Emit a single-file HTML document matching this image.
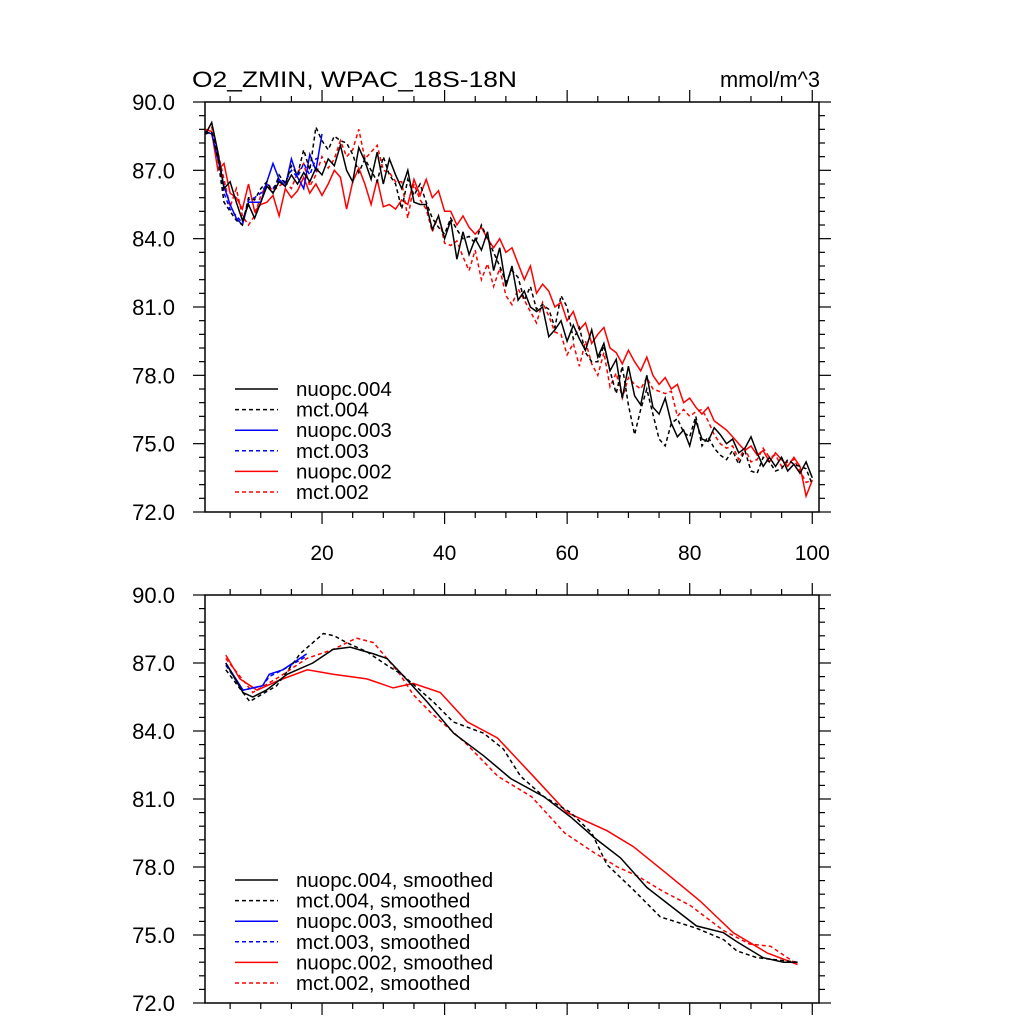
<!DOCTYPE html>
<html><head><meta charset="utf-8"><style>
html,body{margin:0;padding:0;background:#fff;}
svg text{font-family:"Liberation Sans",sans-serif;}
</style></head><body>
<svg id="chart" width="1024" height="1024" xmlns="http://www.w3.org/2000/svg">
<text x="192" y="87" font-size="22" textLength="325" lengthAdjust="spacingAndGlyphs">O2_ZMIN, WPAC_18S-18N</text>
<text x="720" y="87" font-size="22" textLength="100" lengthAdjust="spacingAndGlyphs">mmol/m^3</text>
<g id="top"></g>
<g id="bot"></g>
</svg>
<script>
const nuopc004 = [88.6,89.1,87.8,86.2,86.5,85.6,84.8,85.5,84.9,85.6,86.3,86.0,86.5,86.3,86.8,86.4,86.9,86.5,87.1,86.8,87.5,87.2,88.1,87.0,86.5,88.0,87.4,86.6,87.8,86.4,87.5,86.8,86.2,87.0,85.6,85.5,85.5,84.4,85.0,84.0,84.8,83.1,84.3,83.3,84.0,83.5,84.3,82.6,83.6,81.9,82.8,81.3,81.7,81.0,80.8,81.0,79.7,80.0,80.4,79.5,80.2,79.6,79.1,80.0,78.8,79.4,78.2,78.7,77.0,78.4,77.1,76.7,78.0,76.6,76.3,77.0,75.9,75.3,75.6,74.9,76.0,75.2,75.1,75.7,75.4,75.0,75.2,74.6,74.8,75.3,74.6,74.0,74.4,74.0,74.4,73.8,74.1,73.7,74.2,73.5];
const mct004 = [88.6,88.7,87.5,85.6,85.2,84.8,84.6,85.8,85.7,86.2,86.5,86.0,86.8,86.4,87.2,86.8,87.9,87.0,88.9,88.3,87.9,88.5,88.3,88.2,87.7,86.9,87.5,87.0,86.5,87.6,86.8,86.4,85.3,86.6,85.9,86.4,85.6,84.9,84.5,84.2,84.9,84.4,84.0,84.1,83.8,84.6,84.0,83.4,82.8,82.1,82.6,82.3,81.3,81.9,80.9,81.1,80.9,80.1,81.5,81.0,79.6,80.1,79.0,78.6,78.6,79.3,78.2,77.2,78.4,76.7,75.4,76.5,77.4,76.3,75.2,74.9,75.9,76.1,75.5,75.3,76.2,74.9,75.3,74.8,74.5,74.3,74.7,74.1,74.7,73.8,73.7,74.4,74.2,73.8,73.9,74.3,74.1,74.0,73.9,73.2];
const nuopc003 = [88.7,88.6,87.5,86.3,85.5,84.9,84.6,85.6,85.6,85.6,86.5,87.3,86.6,86.3,87.5,86.7,86.2,87.7,87.0,88.6];
const mct003 = [88.6,88.7,87.6,86.0,85.3,85.0,84.7,85.7,85.8,86.0,86.4,86.2,86.6,86.5,87.0,86.7,87.3,86.8,87.5,87.6];
const nuopc002 = [88.8,88.7,87.0,87.3,86.0,85.8,85.3,86.4,85.2,85.5,85.6,85.9,85.0,86.2,85.8,86.1,86.7,86.0,86.4,85.9,86.4,87.0,86.7,85.3,86.5,87.1,86.4,85.5,86.6,85.4,85.5,85.3,85.7,85.5,86.6,85.9,86.6,85.8,86.1,85.2,85.2,84.6,85.0,84.5,84.2,84.5,84.0,83.6,84.0,83.4,83.6,82.9,82.2,82.8,81.6,82.0,81.7,81.0,81.2,80.4,80.8,80.0,80.3,79.4,79.8,80.1,79.2,79.0,78.5,79.1,78.6,78.2,78.8,78.0,77.6,77.9,77.4,77.6,76.8,77.0,76.6,76.3,76.6,76.0,75.8,75.6,75.3,75.0,74.7,74.9,74.5,74.7,74.2,74.6,74.3,74.0,74.4,74.0,72.7,73.4];
const mct002 = [88.7,88.9,87.8,86.6,85.4,86.2,85.0,84.6,85.0,85.9,86.4,86.1,86.3,86.5,86.2,86.9,87.3,86.3,86.8,87.6,87.1,87.5,88.3,87.6,87.9,88.8,87.5,87.8,88.1,87.0,86.9,86.5,86.5,84.9,86.4,85.7,85.3,84.3,85.0,83.8,83.7,83.9,83.2,82.6,83.5,82.2,82.9,81.9,82.7,81.5,81.1,81.8,81.3,80.8,80.3,81.2,80.6,79.9,79.8,78.9,79.4,78.4,79.5,78.5,78.0,79.0,77.5,78.1,77.0,77.9,77.6,77.4,77.9,77.4,77.3,77.2,77.3,76.2,76.5,76.2,76.4,76.5,76.0,75.4,75.0,74.8,74.9,74.3,74.8,74.2,74.3,74.8,74.4,74.5,74.0,74.2,74.3,73.8,73.3,73.4];

const smXn004 = [4.3,7.1,8.7,10.9,14.3,18.5,21.8,24.6,28.4,30.6,32.7,37.1,41.5,46.4,50.8,56.2,60.6,64.4,68.7,73,76.8,81.1,85.5,87.7,92,95.3,97.6];
const smNuopc004 = [87.0,85.7,85.5,85.8,86.5,87.0,87.6,87.7,87.4,87.2,86.6,85.3,83.9,82.9,81.9,81.1,80.2,79.3,78.4,77.1,76.3,75.4,75.1,74.7,74.0,73.8,73.8];
const smXm004 = [4.3,8.2,12.6,16.4,20.2,22,24,27.3,30.6,33,38.1,41.4,46.4,49.6,52.4,56.2,60.6,64,66.5,70.8,75.2,81.1,85.5,87.7,91,97.6];
const smMct004 = [86.7,85.3,86.0,87.4,88.3,88.2,87.9,87.5,86.9,86.5,85.3,84.4,83.9,83.2,82.0,81.1,80.4,79.5,78.1,77.0,75.8,75.3,74.8,74.3,74.0,73.8];
const smXn002 = [4.3,6.6,9.4,13.1,17.6,21.8,27.3,31.6,34.9,39.3,43.7,48.6,54.5,60,66.5,70.8,76.3,81.7,87.1,92.7,97.6];
const smNuopc002 = [87.35,86.3,85.8,86.25,86.7,86.5,86.3,85.9,86.1,85.7,84.4,83.7,82.0,80.4,79.6,78.9,77.7,76.5,75.1,74.2,73.7];
const smXm002 = [4.3,8.7,13.1,17.5,21.8,25.6,28.4,30.6,32.7,34.9,37.8,43.3,48.7,54.2,59.6,64,68.2,71.5,75.8,80.1,85.5,89.8,93.2,97.6];
const smMct002 = [87.2,85.7,86.4,87.2,87.6,88.1,87.9,87.2,86.5,85.6,84.8,83.5,82.0,81.1,79.5,78.7,78.0,77.6,76.9,76.3,75.2,74.6,74.5,73.7];
const smX3 = [4.3,7.1,10.3,11.4,13.6,17.5];
const smNuopc003 = [87.0,85.8,86.0,86.5,86.7,87.4];
const smMct003 = [86.9,85.8,86.0,86.4,86.7,87.3];

const yTicks = ["72.0","75.0","78.0","81.0","84.0","87.0","90.0"];
const xTicks = ["20","40","60","80","100"];

const NS="http://www.w3.org/2000/svg";
const L=205,R=819;
const xs=v=>L+(v-0.9)*(R-L)/(101.1-0.9);
function mk(tag,attrs,parent){const e=document.createElementNS(NS,tag);for(const k in attrs)e.setAttribute(k,attrs[k]);parent.appendChild(e);return e;}

function panel(g,top,bot,showXLabels){
  const ys=v=>bot-(v-72)*(bot-top)/18;
  const frame=mk('rect',{x:L,y:top,width:R-L,height:bot-top,fill:'none',stroke:'#000','stroke-width':1.5},g);
  
  
  for(let v=72;v<=90.001;v+=0.6){
    const major=Math.abs((v-72)/3-Math.round((v-72)/3))<0.01;
    const len=major?12:6;
    const y=ys(v);
    const t1=mk('line',{x1:L,x2:L-len,y1:y,y2:y,stroke:'#000','stroke-width':1.2},g);
    
    
    const t2=mk('line',{x1:R,x2:R+len,y1:y,y2:y,stroke:'#000','stroke-width':1.2},g);
    
    
  }
  yTicks.forEach(s=>{
    const t=mk('text',{x:175,y:ys(parseFloat(s))+8,'font-size':22,'text-anchor':'end'},g);
    t.textContent=s;
    
    
  });
  for(let v=5;v<=100;v+=5){
    const major=v%20===0;const len=major?12:6;const x=xs(v);
    const a=mk('line',{x1:x,x2:x,y1:bot,y2:bot+len,stroke:'#000','stroke-width':1.2},g);
    
    
    const b=mk('line',{x1:x,x2:x,y1:top,y2:top-len,stroke:'#000','stroke-width':1.2},g);
    
    
  }
  if(showXLabels) xTicks.forEach(s=>{
    const t=mk('text',{x:xs(+s),y:bot+48,'font-size':21,'text-anchor':'middle'},g);
    t.textContent=s;
    
    
  });
  return ys;
}
function series(g,ys,xv,yv,color,dash,name){
  const pts=yv.map((v,i)=>xs(xv[i]).toFixed(1)+','+ys(v).toFixed(1)).join(' ');
  const p=mk('polyline',{points:pts,fill:'none',stroke:color,'stroke-width':1.5,'stroke-dasharray':dash?'4,3':'none'},g);
  
  
}
function legend(g,y0,items){
  items.forEach((it,i)=>{
    const y=y0+i*20.6;
    const l=mk('line',{x1:235,x2:278,y1:y,y2:y,stroke:it[1],'stroke-width':1.5,'stroke-dasharray':it[2]?'4,3':'none'},g);
    
    
    const t=mk('text',{x:296,y:y+7,'font-size':20.5},g);
    t.textContent=it[0];
    
    
  });
}
const idx=n=>Array.from({length:n},(_,i)=>i+1);
const gt=document.getElementById('top'),gb=document.getElementById('bot');
const ysT=panel(gt,102,512,true);
series(gt,ysT,idx(100),mct002,'#f00',true,'series-mct002');
series(gt,ysT,idx(100),nuopc002,'#f00',false,'series-nuopc002');
series(gt,ysT,idx(20),mct003,'#00f',true,'series-mct003');
series(gt,ysT,idx(20),nuopc003,'#00f',false,'series-nuopc003');
series(gt,ysT,idx(100),mct004,'#000',true,'series-mct004');
series(gt,ysT,idx(100),nuopc004,'#000',false,'series-nuopc004');
legend(gt,389,[['nuopc.004','#000',0],['mct.004','#000',1],['nuopc.003','#00f',0],['mct.003','#00f',1],['nuopc.002','#f00',0],['mct.002','#f00',1]]);
const ysB=panel(gb,595,1003,false);
series(gb,ysB,smXm002,smMct002,'#f00',true,'smoothed-mct002');
series(gb,ysB,smXn002,smNuopc002,'#f00',false,'smoothed-nuopc002');
series(gb,ysB,smX3,smMct003,'#00f',true,'smoothed-mct003');
series(gb,ysB,smX3,smNuopc003,'#00f',false,'smoothed-nuopc003');
series(gb,ysB,smXm004,smMct004,'#000',true,'smoothed-mct004');
series(gb,ysB,smXn004,smNuopc004,'#000',false,'smoothed-nuopc004');
legend(gb,880,[['nuopc.004, smoothed','#000',0],['mct.004, smoothed','#000',1],['nuopc.003, smoothed','#00f',0],['mct.003, smoothed','#00f',1],['nuopc.002, smoothed','#f00',0],['mct.002, smoothed','#f00',1]]);
</script>
</body></html>
